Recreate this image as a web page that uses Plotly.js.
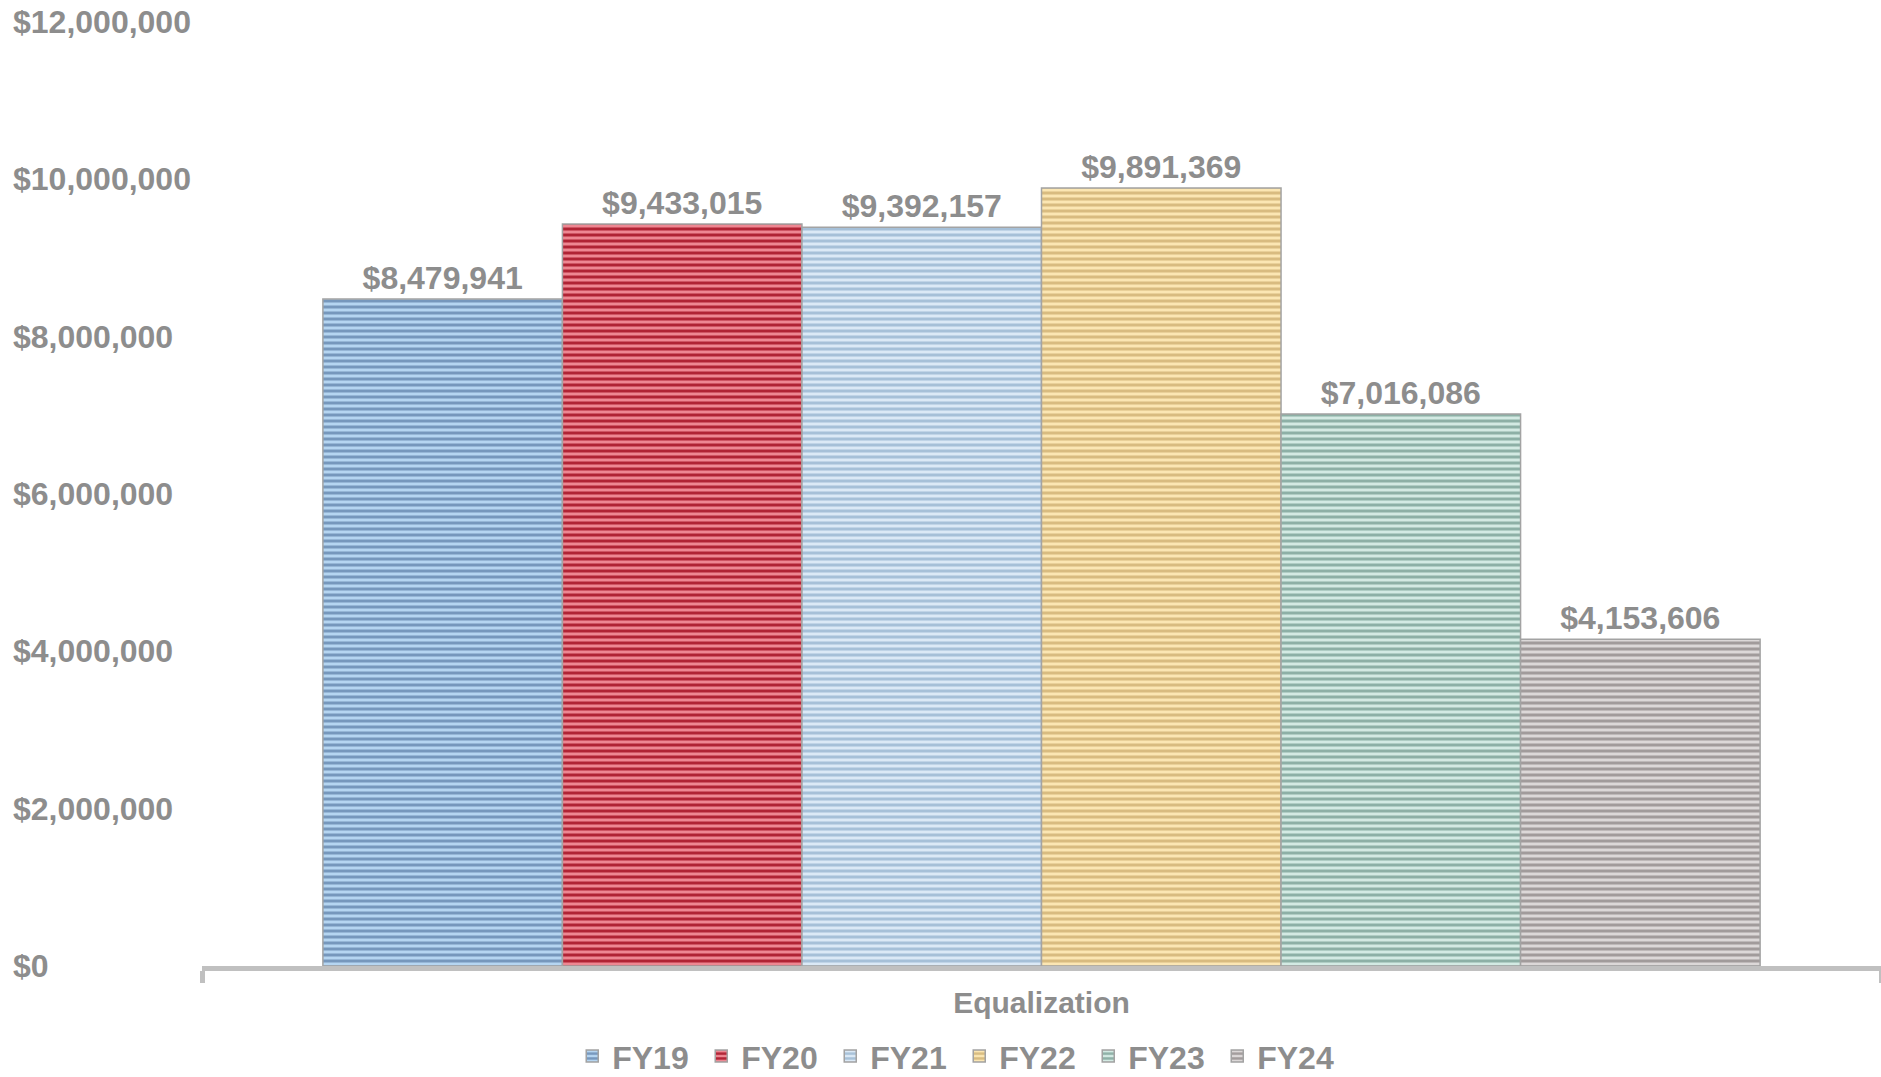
<!DOCTYPE html>
<html>
<head>
<meta charset="utf-8">
<script src="https://cdn.plot.ly/plotly-3.0.1.min.js"></script>
<style>html,body{margin:0;padding:0;background:#fff;}#chart{width:1881px;height:1077px;}</style>
</head>
<body>
<div id="chart"></div>
<script>
const category = ["Equalization"];
const seriesNames = ["FY19", "FY20", "FY21", "FY22", "FY23", "FY24"];
const seriesValues = [8479941, 9433015, 9392157, 9891369, 7016086, 4153606];
const yTickVals = [0, 2000000, 4000000, 6000000, 8000000, 10000000, 12000000];
const yTickText = ["$0", "$2,000,000", "$4,000,000", "$6,000,000", "$8,000,000", "$10,000,000", "$12,000,000"];

const bgColors = ["#b5d5f1", "#ee8792", "#dbe9f6", "#fbe6b3", "#d3eae3", "#dcd8d8"];
const fgColors = ["#7697bc", "#b02334", "#a6c0d8", "#d8bb80", "#8db0a6", "#a19b9b"];

const textGray = "#8d8d8d";
const fontFam = "'Liberation Sans', Arial, sans-serif";

const traces = seriesNames.map((name, i) => ({
  type: "bar",
  name: name,
  x: category,
  y: [seriesValues[i]],
  marker: {
    color: bgColors[i],
    line: {color: "#a3a3a3", width: 1.5},
    pattern: {shape: "-", bgcolor: bgColors[i], fgcolor: fgColors[i], size: 6, solidity: 0.5, fillmode: "replace"}
  },
  texttemplate: "$%{y:,.0f}",
  textposition: "outside",
  cliponaxis: false,
  textfont: {family: fontFam, size: 32, color: textGray, weight: "bold"},
  hoverinfo: "skip"
}));

const annotations = yTickVals.map((v, i) => ({
  xref: "paper", yref: "y", x: -0.114, y: v,
  xanchor: "left", yanchor: "middle",
  text: yTickText[i], showarrow: false,
  font: {family: fontFam, size: 32, color: textGray, weight: "bold"}
}));

const layout = {
  width: 1881, height: 1077,
  margin: {l: 202, r: 0, t: 22, b: 111, autoexpand: false},
  paper_bgcolor: "#fff", plot_bgcolor: "#fff",
  barmode: "group", bargap: 0.144, bargroupgap: 0,
  showlegend: true,
  legend: {
    orientation: "h", xref: "paper", x: 0.451, xanchor: "center",
    yref: "paper", y: -0.0956, yanchor: "middle",
    font: {family: fontFam, size: 32, color: textGray, weight: "bold"},
    itemwidth: 30, entrywidth: 84, traceorder: "normal"
  },
  xaxis: {
    type: "category", range: [-0.5, 0.5], fixedrange: true,
    showline: true, linecolor: "#c0c0c0", linewidth: 5,
    ticks: "outside", tickson: "boundaries", ticklen: 12, tickwidth: 5, tickcolor: "#c0c0c0",
    showgrid: false, zeroline: false, ticklabelstandoff: 6,
    tickfont: {family: fontFam, size: 30, color: textGray, weight: "bold"}
  },
  yaxis: {
    range: [0, 12000000], showgrid: false, zeroline: false, showline: false,
    showticklabels: false, ticks: "", fixedrange: true
  },
  annotations: annotations
};

Plotly.newPlot("chart", traces, layout, {displayModeBar: false, staticPlot: true});
</script>
</body>
</html>
